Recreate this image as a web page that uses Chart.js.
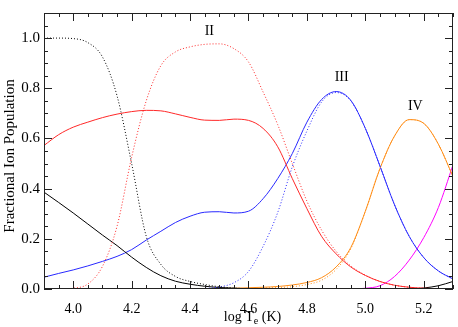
<!DOCTYPE html>
<html>
<head>
<meta charset="utf-8">
<script src="https://cdn.jsdelivr.net/npm/chart.js@4.4.1/dist/chart.umd.min.js"></script>
<style>
  html, body { margin: 0; padding: 0; background: #fff; }
  #contenedor { width: 458px; height: 327px; }
</style>
</head>
<body>
<div id="contenedor"><canvas id="grafico"></canvas></div>
<script>
// temperature grid (log T_e)
const logT = [3.90, 3.95, 4.00, 4.05, 4.10, 4.15, 4.20, 4.25, 4.30, 4.35, 4.40, 4.45, 4.50, 4.55, 4.60,
              4.65, 4.70, 4.75, 4.80, 4.85, 4.90, 4.95, 5.00, 5.05, 5.10, 5.15, 5.20, 5.25, 5.30];

// solid curves
const ionI   = [0.386, 0.345, 0.303, 0.259, 0.215, 0.173, 0.127, 0.086, 0.053, 0.031, 0.019, 0.011, 0.006, 0.003, 0.001,
                0, 0, 0, 0, 0, 0, 0, 0, 0, 0, 0, 0, 0, 0];
const ionII  = [0.572, 0.615, 0.645, 0.665, 0.683, 0.697, 0.707, 0.712, 0.710, 0.698, 0.684, 0.673, 0.672, 0.677, 0.672,
                0.640, 0.567, 0.440, 0.320, 0.210, 0.140, 0.088, 0.054, 0.030, 0.015, 0.007, 0.003, 0.001, 0];
const ionIII = [0.047, 0.062, 0.076, 0.092, 0.110, 0.130, 0.157, 0.195, 0.230, 0.265, 0.290, 0.306, 0.308, 0.303, 0.310,
                0.360, 0.440, 0.540, 0.665, 0.755, 0.787, 0.752, 0.640, 0.490, 0.335, 0.210, 0.125, 0.072, 0.040];
const ionIV  = [0, 0, 0, 0, 0, 0.001, 0.001, 0.001, 0.001, 0.001, 0.002, 0.002, 0.002, 0.003, 0.005,
                0.007, 0.010, 0.016, 0.026, 0.045, 0.088, 0.165, 0.310, 0.480, 0.610, 0.675, 0.660, 0.577, 0.448];
const ionV   = [0, 0, 0, 0, 0, 0, 0, 0, 0, 0, 0, 0, 0, 0, 0,
                0, 0, 0, 0, 0, 0, 0, 0.003, 0.013, 0.050, 0.115, 0.205, 0.325, 0.495];
const ionVI  = [0, 0, 0, 0, 0, 0, 0, 0, 0, 0, 0, 0, 0, 0, 0,
                0, 0, 0, 0, 0, 0, 0, 0, 0, 0, 0, 0.004, 0.013, 0.030];
const ionVII = [0, 0, 0, 0, 0, 0, 0, 0, 0, 0, 0, 0, 0, 0, 0,
                0, 0, 0, 0, 0, 0, 0, 0, 0, 0, 0, 0, 0, 0];

// dotted curves
const ionIpunt   = [1.000, 1.000, 0.998, 0.982, 0.925, 0.770, 0.500, 0.210, 0.098, 0.050, 0.030, 0.018, 0.009, 0.004, 0.001,
                    0, 0, 0, 0, 0, 0, 0, 0, 0, 0, 0, 0, 0, 0];
const ionIIpunt  = [0, 0, 0.003, 0.020, 0.090, 0.250, 0.525, 0.750, 0.890, 0.945, 0.965, 0.975, 0.977, 0.958, 0.905,
                    0.785, 0.655, 0.500, 0.350, 0.235, 0.150, 0.092, 0.055, 0.030, 0.015, 0.007, 0.003, 0.001, 0];
const ionIIIpunt = [0, 0, 0, 0, 0, 0, 0, 0, 0, 0, 0, 0.002, 0.008, 0.025, 0.070,
                    0.170, 0.305, 0.487, 0.630, 0.745, 0.783, 0.750, 0.640, 0.490, 0.335, 0.210, 0.125, 0.072, 0.040];
const ionIVpunt  = [0, 0, 0, 0, 0, 0, 0, 0, 0, 0, 0, 0, 0, 0, 0.002,
                    0.004, 0.006, 0.009, 0.018, 0.035, 0.078, 0.160, 0.310, 0.480, 0.610, 0.675, 0.660, 0.577, 0.448];

// axes
const ticksX = [4.0, 4.2, 4.4, 4.6, 4.8, 5.0, 5.2];
const ticksY = [0.0, 0.2, 0.4, 0.6, 0.8, 1.0];
const etiquetasIones = [
  { texto: 'II',  x: 4.466, y: 1.014 },
  { texto: 'III', x: 4.919, y: 0.828 },
  { texto: 'IV',  x: 5.171, y: 0.712 }
];

const colorEje = '#222';
const fuente = "'Liberation Serif', 'DejaVu Serif', serif";

function serie(valores, color, punteada) {
  return {
    data: valores.map((v, i) => ({ x: logT[i], y: v })),
    borderColor: color,
    borderWidth: 1,
    borderDash: punteada ? [1, 2] : [],
    pointRadius: 0,
    cubicInterpolationMode: 'monotone',
    fill: false
  };
}

const marcoEjes = {
  id: 'marcoEjes',
  afterDatasetsDraw(chart) {
    const { ctx, chartArea: a, scales: { x, y } } = chart;
    ctx.save();
    ctx.strokeStyle = colorEje;
    ctx.lineWidth = 1;
    ctx.strokeRect(a.left + 0.5, a.top + 0.5, a.right - a.left - 1, a.bottom - a.top - 1);

    ctx.beginPath();
    for (let v = 3.9; v <= 5.3001; v += 0.05) {
      const px = Math.round(x.getPixelForValue(v)) + 0.5;
      const mayor = ticksX.some(t => Math.abs(t - v) < 1e-6);
      const largo = mayor ? 8 : 4;
      ctx.moveTo(px, a.bottom); ctx.lineTo(px, a.bottom - largo);
      ctx.moveTo(px, a.top); ctx.lineTo(px, a.top + largo);
    }
    for (let v = 0; v <= 1.1001; v += 0.05) {
      const py = Math.round(y.getPixelForValue(v)) + 0.5;
      const mayor = ticksY.some(t => Math.abs(t - v) < 1e-6);
      const largo = mayor ? 8 : 4;
      ctx.moveTo(a.left, py); ctx.lineTo(a.left + largo, py);
      ctx.moveTo(a.right, py); ctx.lineTo(a.right - largo, py);
    }
    ctx.stroke();

    // ion labels
    ctx.fillStyle = '#000';
    ctx.font = '14px ' + fuente;
    ctx.textAlign = 'center';
    ctx.textBaseline = 'alphabetic';
    etiquetasIones.forEach(e => {
      ctx.fillText(e.texto, x.getPixelForValue(e.x), y.getPixelForValue(e.y));
    });

    // x title with subscript
    ctx.font = '14px ' + fuente;
    const t1 = 'log T', t2 = 'e', t3 = ' (K)';
    const w1 = ctx.measureText(t1).width;
    const w3 = ctx.measureText(t3).width;
    ctx.font = '10px ' + fuente;
    const w2 = ctx.measureText(t2).width;
    const cx = (a.left + a.right) / 2 + 4;
    let xx = cx - (w1 + w2 + w3) / 2;
    const base = 321;
    ctx.textAlign = 'left';
    ctx.font = '14px ' + fuente;
    ctx.fillText(t1, xx, base); xx += w1;
    ctx.font = '10px ' + fuente;
    ctx.fillText(t2, xx, base + 3); xx += w2;
    ctx.font = '14px ' + fuente;
    ctx.fillText(t3, xx, base);

    // y title
    ctx.save();
    ctx.translate(14, 156);
    ctx.rotate(-Math.PI / 2);
    ctx.textAlign = 'center';
    ctx.font = '15px ' + fuente;
    ctx.fillText('Fractional Ion Population', 0, 0);
    ctx.restore();
    ctx.restore();
  }
};

new Chart(document.getElementById('grafico'), {
  type: 'line',
  data: {
    datasets: [
      serie(ionIpunt, '#000', true),
      serie(ionIIpunt, 'rgb(255,40,40)', true),
      serie(ionIIIpunt, 'rgb(40,40,255)', true),
      serie(ionIVpunt, 'rgb(255,140,20)', true),
      serie(ionI, '#000', false),
      serie(ionII, 'rgb(255,40,40)', false),
      serie(ionIII, 'rgb(40,40,255)', false),
      serie(ionIV, 'rgb(255,140,20)', false),
      serie(ionV, 'rgb(255,0,255)', false),
      serie(ionVI, '#000', false),
      serie(ionVII, 'rgb(230,0,0)', false)
    ]
  },
  options: {
    responsive: true,
    maintainAspectRatio: false,
    animation: false,
    layout: { padding: { top: 6, right: 5, left: 0, bottom: 0 } },
    plugins: { legend: { display: false }, tooltip: { enabled: false } },
    scales: {
      x: {
        type: 'linear',
        min: 3.9,
        max: 5.3,
        afterBuildTicks: eje => { eje.ticks = ticksX.map(v => ({ value: v })); },
        afterFit: eje => { eje.height = 38; },
        ticks: {
          color: '#000',
          font: { family: fuente, size: 14 },
          padding: 12,
          maxRotation: 0,
          autoSkip: false,
          callback: v => v.toFixed(1)
        },
        grid: { display: false, drawTicks: false },
        border: { display: false }
      },
      y: {
        type: 'linear',
        min: 0,
        max: 1.1,
        afterBuildTicks: eje => { eje.ticks = ticksY.map(v => ({ value: v })); },
        afterFit: eje => { eje.width = 44; },
        ticks: {
          color: '#000',
          font: { family: fuente, size: 15 },
          padding: 4,
          autoSkip: false,
          callback: v => v.toFixed(1)
        },
        grid: { display: false, drawTicks: false },
        border: { display: false }
      }
    }
  },
  plugins: [marcoEjes]
});
</script>
</body>
</html>
